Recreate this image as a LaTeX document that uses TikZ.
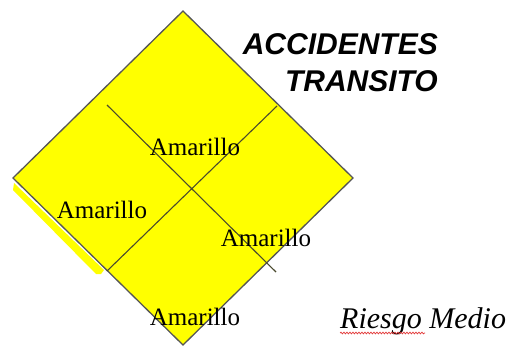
\documentclass[tikz,border=0pt]{standalone}
\usepackage{fontspec}
\setmainfont{Liberation Serif}
\setsansfont{Liberation Sans}
\usetikzlibrary{decorations.pathmorphing}
\definecolor{Signal}{HTML}{FFFF00}
\definecolor{Edge}{HTML}{555555}
\definecolor{Seam}{HTML}{4A4A2E}
\definecolor{Squiggle}{HTML}{E23A3A}

\begin{document}
\begin{tikzpicture}[x=1pt, y=-1pt]
    \useasboundingbox (0,0) rectangle (516,353);
    \coordinate (apexN) at (183,11);
    \coordinate (apexE) at (353,178);
    \coordinate (apexS) at (183,345);
    \coordinate (apexW) at (13,178);
    % yellow strip sticking out below the lower left edge
    \fill[Signal] (14,183) -- (13,190) -- (96,274) -- (101,274) -- (104,270) -- cycle;
    \filldraw[fill=Signal, draw=Edge, line width=1.3pt] (apexN) -- (apexE) -- (apexS) -- (apexW) -- cycle;
    \coordinate (seamA1) at (107,105);
    \coordinate (seamA2) at (276,272);
    \coordinate (seamB1) at (277,106);
    \coordinate (seamB2) at (107,271);
    \draw[Seam, line width=1.1pt] (seamA1) -- (seamA2);
    \draw[Seam, line width=1.1pt] (seamB1) -- (seamB2);
    \node[font=\fontsize{25}{30}\selectfont, anchor=base, inner sep=0pt] (amaTop) at (195,155) {Amarillo};
    \node[font=\fontsize{25}{30}\selectfont, anchor=base, inner sep=0pt] (amaLeft) at (102,218) {Amarillo};
    \node[font=\fontsize{25}{30}\selectfont, anchor=base, inner sep=0pt] (amaRight) at (266,246) {Amarillo};
    \node[font=\fontsize{25}{30}\selectfont, anchor=base, inner sep=0pt] (amaBottom) at (195,325) {Amarillo};
    \node[font=\sffamily\bfseries\itshape\fontsize{30}{36}\selectfont, anchor=base east, inner sep=0pt] (title1) at (438,55) {ACCIDENTES};
    \node[font=\sffamily\bfseries\itshape\fontsize{30}{36}\selectfont, anchor=base east, inner sep=0pt] (title2) at (438,91) {TRANSITO};
    \node[font=\itshape\fontsize{30}{36}\selectfont, anchor=base west, inner sep=0pt] (riesgo) at (340,328) {Riesgo Medio};
    \draw[Squiggle, line width=0.7pt, decorate, decoration={snake, amplitude=0.9pt, segment length=3pt}] ([yshift=-5pt]riesgo.base west) -- ++(85,0);
\end{tikzpicture}
\end{document}
